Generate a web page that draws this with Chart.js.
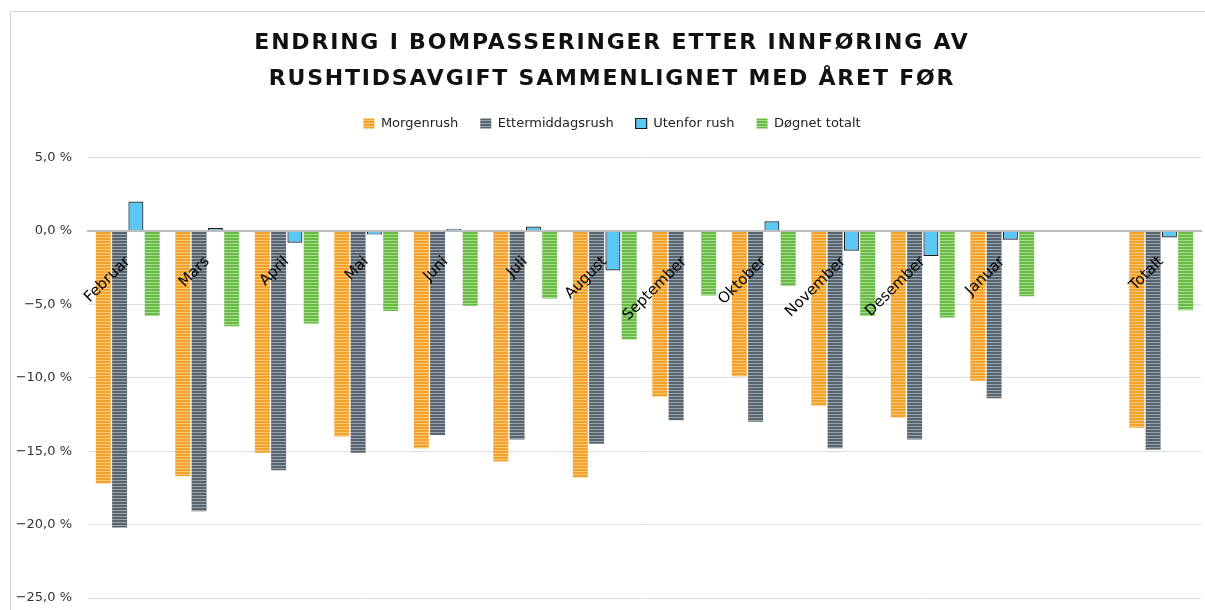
<!DOCTYPE html>
<html>
<head>
<meta charset="utf-8">
<script src="https://cdn.jsdelivr.net/npm/chart.js@4.4.1/dist/chart.umd.min.js"></script>
<style>
html,body{margin:0;padding:0;background:#fff;overflow:hidden}
#wrap{position:relative;width:1205px;height:610px}
canvas{display:block}
</style>
</head>
<body>
<div id="wrap"><canvas id="c" width="1205" height="610"></canvas></div>
<script>
// ---- data ----
const categories = ['Februar','Mars','April','Mai','Juni','Juli','August','September','Oktober','November','Desember','Januar','','Totalt'];
const morgenrush       = [-17.2, -16.7, -15.1, -14.0, -14.8, -15.7, -16.8, -11.3,  -9.9, -11.9, -12.7, -10.2, null, -13.4];
const ettermiddagsrush = [-20.2, -19.1, -16.3, -15.1, -13.9, -14.2, -14.5, -12.9, -13.0, -14.8, -14.2, -11.4, null, -14.9];
const utenforRush      = [  2.0,   0.2,  -0.8, -0.25,  0.15,   0.3,  -2.7,  0.05,  0.65, -1.35,  -1.7,  -0.6, null, -0.45];
const dognetTotalt     = [ -5.8,  -6.5,  -6.3, -5.45,  -5.1,  -4.6,  -7.4,  -4.4, -3.75,  -5.8,  -5.9, -4.45, null,  -5.4];
const seriesNames = ['Morgenrush','Ettermiddagsrush','Utenfor rush','Døgnet totalt'];
const yTicks = [5, 0, -5, -10, -15, -20, -25];
const titleLines = ['ENDRING I BOMPASSERINGER ETTER INNFØRING AV','RUSHTIDSAVGIFT SAMMENLIGNET MED ÅRET FØR'];

// ---- styles ----
function stripes(base, light){
  const c = document.createElement('canvas'); c.width = 4; c.height = 3;
  const x = c.getContext('2d');
  x.fillStyle = base; x.fillRect(0,0,4,3);
  x.fillStyle = light; x.fillRect(0,0,4,1);
  return x.createPattern(c,'repeat');
}
const orangeP = stripes('#F3A22B', '#F8C878');
const greyP   = stripes('#58646E', '#9AA4AC');
const greenP  = stripes('#68BC43', '#A9DA93');

function fmt(v){ return (v < 0 ? '\u2212' : '') + Math.abs(v).toFixed(1).replace('.', ',') + ' %'; }

const LEGEND_EXTRA = 17.5;
const HEADER_SHIFT = 11.5; // title and legend are centred on the outer frame, not the canvas
const patchPlugin = {
  id: 'patch',
  beforeLayout(chart){
    if (chart.$patched) return;
    chart.$patched = true;
    const t = chart.titleBlock;
    if (t){
      const od = t.draw;
      t.draw = function(){ const ctx = this.ctx; ctx.save(); ctx.translate(HEADER_SHIFT, 0); ctx.letterSpacing = '1.8px'; od.apply(this, arguments); ctx.restore(); };
    }
    const l = chart.legend;
    if (l){
      const of = l.fit;
      l.fit = function(){ of.apply(this, arguments); this.height += LEGEND_EXTRA; };
      const od2 = l.draw;
      l.draw = function(){ const ctx = this.ctx; ctx.save(); ctx.translate(HEADER_SHIFT, 0); od2.apply(this, arguments); ctx.restore(); };
    }
  },
  beforeDraw(chart){
    const ctx = chart.ctx;
    ctx.save();
    ctx.strokeStyle = '#d4d4d4'; ctx.lineWidth = 1;
    ctx.beginPath();
    ctx.moveTo(10.5, chart.height); ctx.lineTo(10.5, 11.5); ctx.lineTo(chart.width, 11.5);
    ctx.stroke();
    ctx.restore();
  }
};

new Chart(document.getElementById('c'), {
  type: 'bar',
  data: {
    labels: categories,
    datasets: [
      { label: seriesNames[0], data: morgenrush, backgroundColor: orangeP, borderWidth: 0 },
      { label: seriesNames[1], data: ettermiddagsrush, backgroundColor: greyP, borderWidth: 0 },
      { label: seriesNames[2], data: utenforRush, backgroundColor: '#5BC8F4', borderColor: '#1c1c1c', borderWidth: 1.2 },
      { label: seriesNames[3], data: dognetTotalt, backgroundColor: greenP, borderWidth: 0 }
    ]
  },
  options: {
    responsive: false,
    animation: false,
    devicePixelRatio: 1,
    categoryPercentage: 0.82,
    barPercentage: 0.92,
    layout: { padding: { top: 25, left: 0, right: 4, bottom: 12 } },
    plugins: {
      title: {
        display: true,
        text: titleLines,
        color: '#111',
        font: { family: 'DejaVu Sans', size: 22, weight: 'bold', lineHeight: 36/22 },
        padding: { top: 0, bottom: -2 }
      },
      legend: {
        display: true,
        labels: {
          boxWidth: 11, boxHeight: 10, padding: 22,
          color: '#222',
          font: { family: 'DejaVu Sans', size: 13 }
        }
      },
      tooltip: { enabled: false }
    },
    scales: {
      x: {
        position: { y: 0 },
        grid: { display: false },
        border: { display: true, color: '#bdbdbd', width: 2, z: 1 },
        ticks: {
          z: 2,
          autoSkip: false, minRotation: 45, maxRotation: 45, padding: 14,
          color: '#000', font: { family: 'DejaVu Sans', size: 15 }
        },
        afterFit(s){ s.height = 0; }
      },
      y: {
        min: -25, max: 5,
        afterBuildTicks(s){ s.ticks = yTicks.map(v => ({ value: v })); },
        afterFit(s){ s.width = 88; s.paddingTop = 0; s.paddingBottom = 0; },
        grid: { color: '#dedede', lineWidth: 1, drawTicks: false },
        border: { display: false },
        ticks: {
          padding: 16, color: '#333',
          font: { family: 'DejaVu Sans', size: 13 },
          callback: (v) => fmt(v)
        }
      }
    }
  },
  plugins: [patchPlugin]
});
</script>
</body>
</html>
